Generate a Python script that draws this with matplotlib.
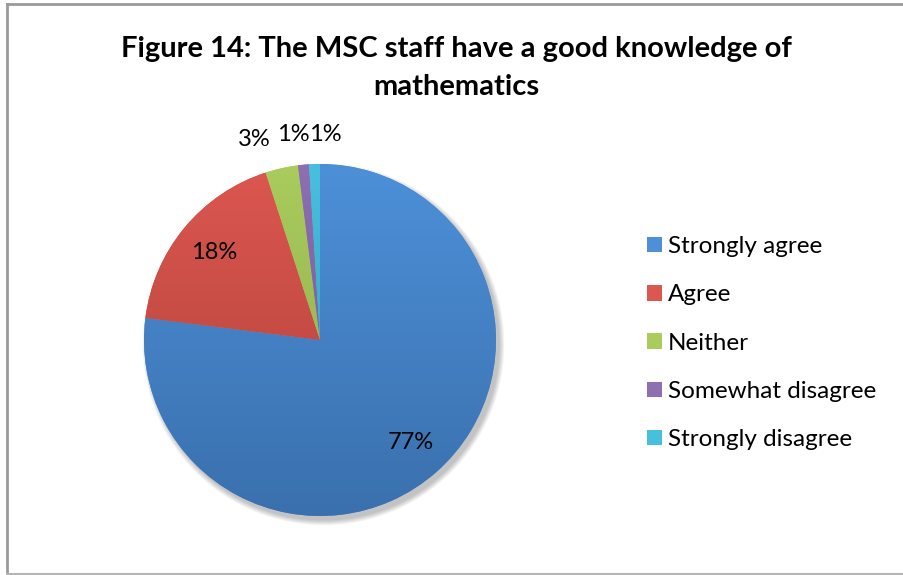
import numpy as np
import matplotlib.pyplot as plt
from matplotlib.patches import Patch, Circle
from matplotlib.colors import LinearSegmentedColormap

categories = ["Strongly agree", "Agree", "Neither", "Somewhat disagree", "Strongly disagree"]
shares = [77, 18, 3, 1, 1]
pct_labels = ["77%", "18%", "3%", "1%", "1%"]

# light (top) and dark (bottom) shade of each slice
top_colors = ["#4d90d8", "#dc5750", "#a9cc5d", "#8d6fb2", "#47c0de"]
bottom_colors = ["#3a70ad", "#ad4038", "#8ca848", "#6f5590", "#2f98b4"]

plt.rcParams['font.family'] = ['Lato', 'DejaVu Sans']

W, H = 904, 575
fig = plt.figure(figsize=(W / 100, H / 100), dpi=100)

# chart frame
fig.add_artist(plt.Line2D([7 / W, 7 / W], [0, 1 - 4 / H], color="#9a9a9a", lw=2))
fig.add_artist(plt.Line2D([7 / W, 1], [1 - 4 / H, 1 - 4 / H], color="#9a9a9a", lw=2))
fig.add_artist(plt.Line2D([7 / W, 1], [1.5 / H, 1.5 / H], color="#b5b5b5", lw=1.5))

cx, cy, r = 320, 340, 176
lim = 1.25
ax = fig.add_axes([(cx - lim * r) / W, (H - cy - lim * r) / H, 2 * lim * r / W, 2 * lim * r / H])
ax.axis("off")

# soft drop shadow
for k in range(8):
    ax.add_patch(Circle((0.02, -0.025), 1.0 + 0.004 * k, color="black",
                        alpha=0.03, lw=0, zorder=0))

wedges, _ = ax.pie(shares, startangle=90, counterclock=False, radius=1,
                   colors=top_colors, wedgeprops=dict(lw=0))

grad = np.linspace(1, 0, 256).reshape(-1, 1)
for w, c0, c1 in zip(wedges, top_colors, bottom_colors):
    cmap = LinearSegmentedColormap.from_list("g", [c1, c0])
    im = ax.imshow(grad, cmap=cmap, extent=(-1, 1, -1, 1), origin="upper",
                   aspect="auto", zorder=2, vmin=0, vmax=1)
    im.set_clip_path(w)
ax.set_xlim(-lim, lim)
ax.set_ylim(-lim, lim)
ax.set_aspect("equal")

# percentage labels: inside for big slices, outside (spread apart) for thin ones
nudges = [0, 0, -0.12, -0.04, 0.065]
for w, lab, share, dx in zip(wedges, pct_labels, shares, nudges):
    mid = np.deg2rad((w.theta1 + w.theta2) / 2)
    d = 0.78 if share > 10 else 1.17
    ax.text(d * np.cos(mid) + dx, d * np.sin(mid), lab, ha="center", va="center",
            fontsize=17, color="black", zorder=5)

fig.text(456 / W, 1 - 68 / H, "Figure 14: The MSC staff have a good knowledge of\nmathematics",
         ha="center", va="center", fontsize=21, fontweight="bold", linespacing=1.55)

handles = [Patch(facecolor=c, edgecolor="none") for c in top_colors]
fig.legend(handles, categories, loc="upper left", bbox_to_anchor=(635 / W, 1 - 224 / H),
           frameon=False, fontsize=17.5, handlelength=0.6, handleheight=0.6,
           handletextpad=0.25, labelspacing=1.12, borderpad=0)

fig.savefig("out.png", dpi=100)
